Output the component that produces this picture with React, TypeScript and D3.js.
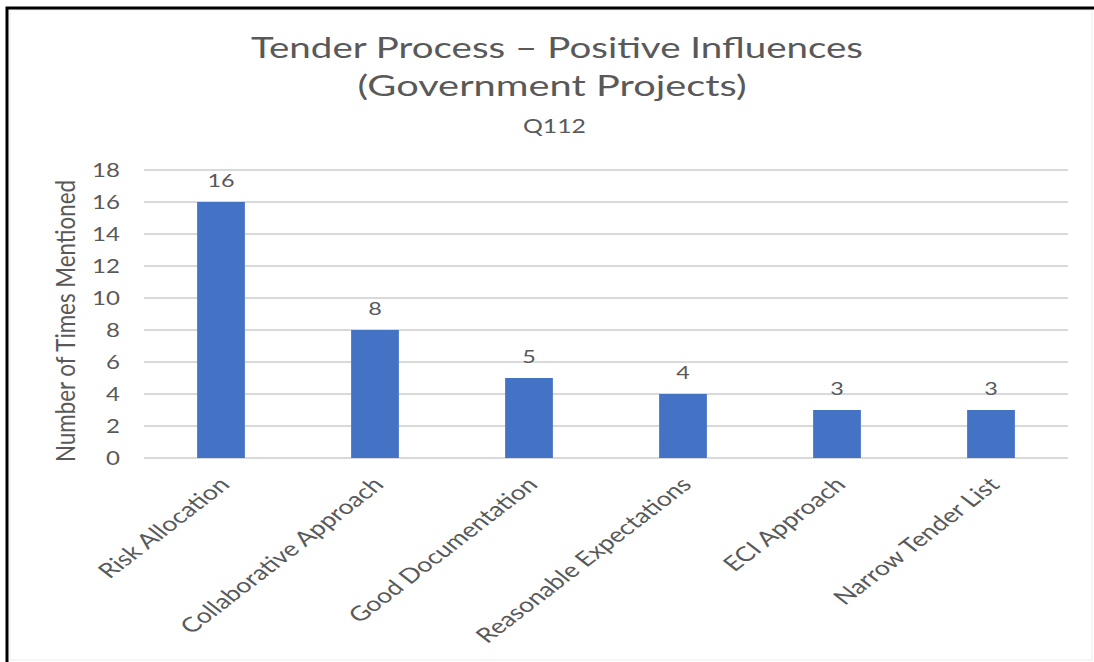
import React from "react";
import * as d3 from "d3";

const categories = [
  "Risk Allocation",
  "Collaborative Approach",
  "Good Documentation",
  "Reasonable Expectations",
  "ECI Approach",
  "Narrow Tender List",
];
const values = [16, 8, 5, 4, 3, 3];
const yTicks = [0, 2, 4, 6, 8, 10, 12, 14, 16, 18];
const titleLines = ["Tender Process \u2013 Positive Influences", "(Government Projects)"];
const subtitle = "Q112";
const yAxisTitle = "Number of Times Mentioned";

const W = 1094;
const H = 662;
const SX = 1.3;
const FONT = "Lato, 'Open Sans', sans-serif";
const TEXT = "#595959";

export default function App() {
  const x = d3
    .scaleBand<string>()
    .domain(categories)
    .range([144, 1068])
    .paddingInner(0.69)
    .paddingOuter(0.345);
  const y = d3.scaleLinear().domain([0, 18]).range([458, 170]);

  return (
    <svg
      width={W}
      height={H}
      style={{ position: "absolute", left: 0, top: 0, background: "#fff" }}
      fontFamily={FONT}
    >
      <rect x={0} y={0} width={W} height={H} fill="#fff" />
      <rect x={10} y={10} width={1082} height={650} fill="none" stroke="#ececec" strokeWidth={1} />
      <path d={`M7,${H} L7,8 L${W},8`} fill="none" stroke="#000" strokeWidth={3} />

      {/* titles */}
      <text
        transform={`translate(557,57.5) scale(${SX},1)`}
        textAnchor="middle"
        fontSize={28}
        fill={TEXT}
        textLength={612 / SX}
        lengthAdjust="spacingAndGlyphs"
      >
        {titleLines[0]}
      </text>
      <text
        transform={`translate(552,96) scale(${SX},1)`}
        textAnchor="middle"
        fontSize={28}
        fill={TEXT}
        textLength={389 / SX}
        lengthAdjust="spacingAndGlyphs"
      >
        {titleLines[1]}
      </text>
      <text
        transform={`translate(554.5,132.5) scale(${SX},1)`}
        textAnchor="middle"
        fontSize={19}
        fill={TEXT}
        textLength={63 / SX}
        lengthAdjust="spacingAndGlyphs"
      >
        {subtitle}
      </text>

      {/* gridlines */}
      {yTicks.map((t) => (
        <line
          key={"g" + t}
          x1={144}
          x2={1068}
          y1={y(t)}
          y2={y(t)}
          stroke="#d9d9d9"
          strokeWidth={2}
        />
      ))}

      {/* y tick labels */}
      {yTicks.map((t) => (
        <text
          key={"t" + t}
          transform={`translate(120,${y(t) + 6.5}) scale(${SX},1)`}
          textAnchor="end"
          fontSize={18.5}
          fill={TEXT}
        >
          {t}
        </text>
      ))}

      {/* y axis title */}
      <text
        transform={`translate(75,321) scale(${SX},1) rotate(-90)`}
        textAnchor="middle"
        fontSize={20}
        fill={TEXT}
        textLength={282}
        lengthAdjust="spacingAndGlyphs"
      >
        {yAxisTitle}
      </text>

      {/* bars */}
      {categories.map((c, i) => (
        <rect
          key={"b" + c}
          x={x(c)!}
          y={y(values[i])}
          width={x.bandwidth()}
          height={y(0) - y(values[i])}
          fill="#4472C4"
        />
      ))}

      {/* data labels */}
      {categories.map((c, i) => (
        <text
          key={"l" + c}
          transform={`translate(${x(c)! + x.bandwidth() / 2},${y(values[i]) - 15}) scale(${SX},1)`}
          textAnchor="middle"
          fontSize={18}
          fill={TEXT}
        >
          {values[i]}
        </text>
      ))}

      {/* category labels */}
      {categories.map((c) => (
        <text
          key={"c" + c}
          transform={`translate(${x(c)! + x.bandwidth() / 2 + 10},${y(0) + 28}) scale(${SX},1) rotate(-45)`}
          textAnchor="end"
          fontSize={20.5}
          fill={TEXT}
        >
          {c}
        </text>
      ))}
    </svg>
  );
}
